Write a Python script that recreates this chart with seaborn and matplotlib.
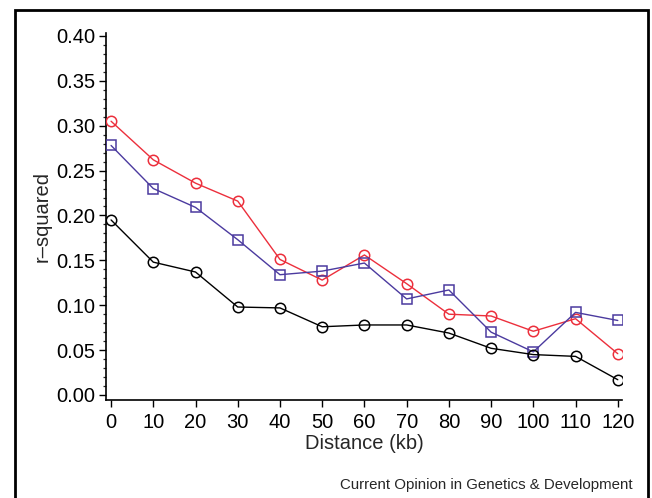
import numpy as np
import pandas as pd
import matplotlib
matplotlib.use("Agg")
import matplotlib.pyplot as plt
import seaborn as sns
from matplotlib.ticker import MultipleLocator
from matplotlib.patches import Rectangle

distance = [0, 10, 20, 30, 40, 50, 60, 70, 80, 90, 100, 110, 120]
red_vals = [0.305, 0.262, 0.236, 0.216, 0.151, 0.128, 0.156, 0.124, 0.090, 0.088, 0.071, 0.085, 0.046]
blue_vals = [0.278, 0.230, 0.209, 0.173, 0.134, 0.138, 0.147, 0.107, 0.117, 0.070, 0.048, 0.092, 0.083]
black_vals = [0.195, 0.148, 0.137, 0.098, 0.097, 0.076, 0.078, 0.078, 0.069, 0.052, 0.045, 0.043, 0.017]
y_ticks = [0.00, 0.05, 0.10, 0.15, 0.20, 0.25, 0.30, 0.35, 0.40]

sns.set_theme(style="ticks")
plt.rcParams['font.family'] = ['Liberation Sans', 'DejaVu Sans']

fig = plt.figure(figsize=(6.52, 4.98), dpi=100)
ax = fig.add_axes([106/652, 1-400/498, (622-106)/652, (400-33)/498])

series = [
    (red_vals, "#ec2f3c", "o"),
    (blue_vals, "#4b3a9f", "s"),
    (black_vals, "#000000", "o"),
]
for vals, col, mk in series:
    df = pd.DataFrame({"x": distance, "y": vals})
    sns.lineplot(data=df, x="x", y="y", ax=ax, color=col, linewidth=1.0,
                 marker=mk, markersize=7.5 if mk == "o" else 7,
                 markerfacecolor="none", markeredgecolor=col, markeredgewidth=1.1,
                 zorder=3)

ax.set_xlim(-1.2, 121)
ax.set_ylim(-0.0056, 0.4033)
ax.set_xticks(distance)
ax.set_yticks(y_ticks)
ax.set_yticklabels([f"{v:.2f}" for v in y_ticks])
ax.yaxis.set_minor_locator(MultipleLocator(0.01))
ax.tick_params(axis="both", which="major", direction="out", length=5, width=1.0,
               labelsize=14.5, colors="black", pad=3)
ax.tick_params(axis="y", which="minor", direction="out", length=2.5, width=0.9)
ax.tick_params(axis="x", pad=4)
for s in ["top", "right"]:
    ax.spines[s].set_visible(False)
for s in ["left", "bottom"]:
    ax.spines[s].set_linewidth(1.2)
    ax.spines[s].set_color("black")
ax.set_xlabel("Distance (kb)", fontsize=14.5, labelpad=2)
ax.set_ylabel("r\u2013squared", fontsize=14.5, labelpad=3)
ax.set_facecolor("white")

fig.text(633/652, 1-485/498, "Current Opinion in Genetics & Development",
         ha="right", va="center", fontsize=10.8)

rect = Rectangle((14.5/652, -0.1), (648-14.5)/652, 1.1 - 10.5/498, transform=fig.transFigure,
                 fill=False, edgecolor="black", linewidth=2, clip_on=False)
fig.patches.append(rect)

fig.savefig("out.png", dpi=100)
